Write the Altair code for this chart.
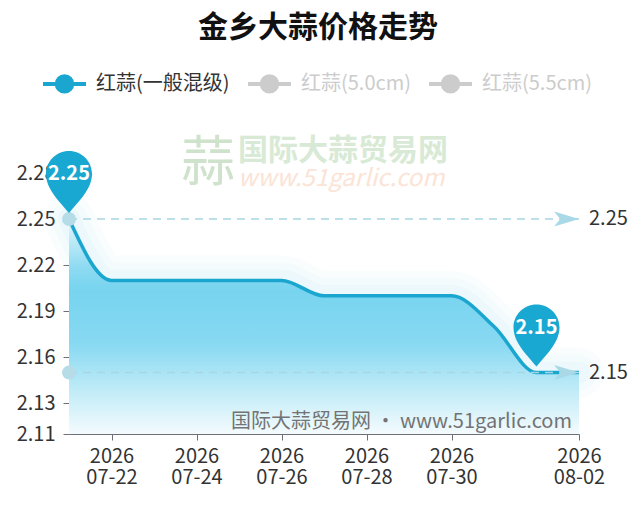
import altair as alt
import pandas as pd

FONT = "Noto Sans CJK SC"

# ---------------- data ----------------
dates = ["2026-07-21", "2026-07-22", "2026-07-23", "2026-07-24", "2026-07-25",
         "2026-07-26", "2026-07-27", "2026-07-28", "2026-07-29", "2026-07-30",
         "2026-07-31", "2026-08-01", "2026-08-02"]
prices = [2.25, 2.21, 2.21, 2.21, 2.21, 2.21, 2.20, 2.20, 2.20, 2.20, 2.18, 2.15, 2.15]
series_names = ["红蒜(一般混级)", "红蒜(5.0cm)", "红蒜(5.5cm)"]
series_colors = ["#1aa6cf", "#cccccc", "#cccccc"]
y_ticks = [2.11, 2.13, 2.16, 2.19, 2.22, 2.25, 2.28]
y_domain = [2.11, 2.28]
x_tick_dates = ["2026-07-22", "2026-07-24", "2026-07-26", "2026-07-28", "2026-07-30", "2026-08-02"]
title_text = "金乡大蒜价格走势"
logo_text = ["蒜"]
site_text = ["国际大蒜贸易网"]
url_text = ["www.51garlic.com"]
footer_text = ["国际大蒜贸易网 • www.51garlic.com"]

df = pd.DataFrame({"date": dates, "price": prices, "series": series_names[0]})
imax = int(df["price"].idxmax())
imin = int(df["price"].idxmin())
pins_df = pd.DataFrame({"date": [dates[imax], dates[imin]],
                        "price": [prices[imax], prices[imin]]})
ml_df = pd.DataFrame({"start": [dates[0], dates[0]],
                      "end": [dates[-1], dates[-1]],
                      "price": [max(prices), min(prices)]})


def dt(s):
    y, m, d = (int(v) for v in s.split("-"))
    return alt.DateTime(year=y, month=m, date=d, utc=True)


AXIS_COLOR = "#6e7079"
x_scale = alt.Scale(type="utc", domain=[dt(dates[0]), dt(dates[-1])], nice=False)
y_scale = alt.Scale(domain=y_domain, nice=False, zero=False)
x_axis = alt.Axis(
    values=[dt(s) for s in x_tick_dates],
    labelExpr="[utcFormat(datum.value, '%Y'), utcFormat(datum.value, '%m-%d')]",
    title=None, grid=False, domainColor=AXIS_COLOR, tickColor=AXIS_COLOR,
    tickSize=6, labelFont=FONT, labelFontSize=20, labelColor="#333333",
    labelPadding=6, labelLineHeight=21, labelFlush=False, labelOverlap=False,
    labelAngle=0, labelAlign="center", labelBaseline="top",
)
y_axis = alt.Axis(
    values=y_ticks, format=".2f", title=None, grid=False,
    domainColor=AXIS_COLOR, tickColor=AXIS_COLOR, tickSize=6,
    labelFont=FONT, labelFontSize=20, labelColor="#333333", labelPadding=8,
    labelFlush=False, labelOverlap=False,
)


def X(field):
    return alt.X(f"{field}:T", scale=x_scale, axis=x_axis)


def Y(field="price"):
    return alt.Y(f"{field}:Q", scale=y_scale, axis=y_axis)


base = alt.Chart(df)

# watermark (top)
wm_logo = alt.Chart(alt.Data(values=[{"t": t} for t in logo_text])).mark_text(
    font=FONT, fontSize=54, color="#cfe3cc", align="center", baseline="middle"
).encode(x=alt.value(139), y=alt.value(-8), text="t:N")
wm_site = alt.Chart(alt.Data(values=[{"t": t} for t in site_text])).mark_text(
    font=FONT, fontSize=30, fontWeight="bold", color="#d8ead5", align="left", baseline="middle"
).encode(x=alt.value(169), y=alt.value(-22), text="t:N")
wm_url = alt.Chart(alt.Data(values=[{"t": t} for t in url_text])).mark_text(
    font=FONT, fontSize=24, fontStyle="italic", color="#fbe3d5", align="left", baseline="middle"
).encode(x=alt.value(169), y=alt.value(6), text="t:N")

# glow under the line
glows = [
    base.mark_line(interpolate="monotone", color="#5cc7ea", strokeWidth=w, opacity=o,
                   strokeCap="round").encode(x=X("date"), y=Y())
    for w, o in [(50, 0.03), (36, 0.04), (22, 0.05)]
]

gradient = alt.Gradient(
    gradient="linear", x1=0, y1=0, x2=0, y2=1,
    stops=[
        alt.GradientStop(color="#e6f7fc", offset=0),
        alt.GradientStop(color="#8fdbf2", offset=0.22),
        alt.GradientStop(color="#77d4ef", offset=0.33),
        alt.GradientStop(color="#88d9f2", offset=0.58),
        alt.GradientStop(color="#c6edf8", offset=0.82),
        alt.GradientStop(color="#f4fbfe", offset=1),
    ],
)
area = base.mark_area(interpolate="monotone", color=gradient).encode(
    x=X("date"), y=Y(), y2=alt.datum(y_domain[0])
)

footer = alt.Chart(alt.Data(values=[{"t": t} for t in footer_text])).mark_text(
    font=FONT, fontSize=20, color="#737373", align="right", baseline="alphabetic"
).encode(x=alt.value(503), y=alt.value(255), text="t:N")

sel = series_names[0]
legend = alt.Legend(
    orient="none", legendX=-28, legendY=-113, direction="horizontal", columns=3,
    title=None, padding=0,
    symbolType="M-1,0L1,0M0.36,0A0.36,0.36,0,1,1,-0.36,0A0.36,0.36,0,1,1,0.36,0",
    symbolSize=1849, symbolStrokeWidth=4,
    symbolFillColor=alt.ExprRef(expr=f"datum.value === '{sel}' ? '{series_colors[0]}' : '#cccccc'"),
    labelColor=alt.ExprRef(expr=f"datum.value === '{sel}' ? '#333333' : '#cccccc'"),
    labelFont=FONT, labelFontSize=20, labelOffset=8, columnPadding=10, labelLimit=300,
)
line = base.mark_line(interpolate="monotone", strokeWidth=3.5).encode(
    x=X("date"), y=Y(),
    color=alt.Color("series:N", scale=alt.Scale(domain=series_names, range=series_colors),
                    legend=legend),
)

ml_base = alt.Chart(ml_df)
ml_rule = ml_base.mark_rule(color="#a6d5e3", strokeWidth=1.5, strokeDash=[8, 6]).encode(
    x=X("start"), x2="end:T", y=Y()
)
ml_start = ml_base.mark_point(filled=True, size=196, color="#b6dde7", opacity=1).encode(
    x=X("start"), y=Y()
)
ml_arrow = ml_base.mark_point(
    shape="M0,0L-2,-0.6L-1.5,0L-2,0.6Z", filled=True, size=625, color="#a9d8e6", opacity=1
).encode(x=X("end"), y=Y())
ml_label = ml_base.mark_text(
    align="left", baseline="middle", dx=10, font=FONT, fontSize=20, color="#333333"
).encode(x=X("end"), y=Y(), text=alt.Text("price:Q", format=".2f"))

pin_base = alt.Chart(pins_df)
pins = pin_base.mark_point(
    shape="M0,-0.26C-0.4,-0.75,-1,-1.3,-1,-1.96A1,1,0,1,1,1,-1.96C1,-1.3,0.4,-0.75,0,-0.26Z",
    filled=True, size=2116, color="#19a8d1", opacity=1, strokeWidth=0,
).encode(x=X("date"), y=Y())
pin_text = pin_base.mark_text(
    font=FONT, fontSize=20, fontWeight="bold", color="white", dy=-45, baseline="middle"
).encode(x=X("date"), y=Y(), text=alt.Text("price:Q", format=".2f"))

chart = alt.layer(
    wm_logo, wm_site, wm_url, *glows, area, footer, line,
    ml_rule, ml_start, ml_arrow, ml_label, pins, pin_text,
).properties(
    width=510, height=261,
    autosize=alt.AutoSizeParams(type="none"),
    padding={"left": 61, "top": 165, "right": 50, "bottom": 57},
    title=alt.TitleParams(
        text=title_text, font=FONT, fontSize=30, fontWeight="bold", color="#111111",
        anchor="middle", offset=17, dx=-6,
    ),
    background="white",
).configure_view(stroke=None)

chart.save("out.html", embed_options={"renderer": "svg", "actions": False})
